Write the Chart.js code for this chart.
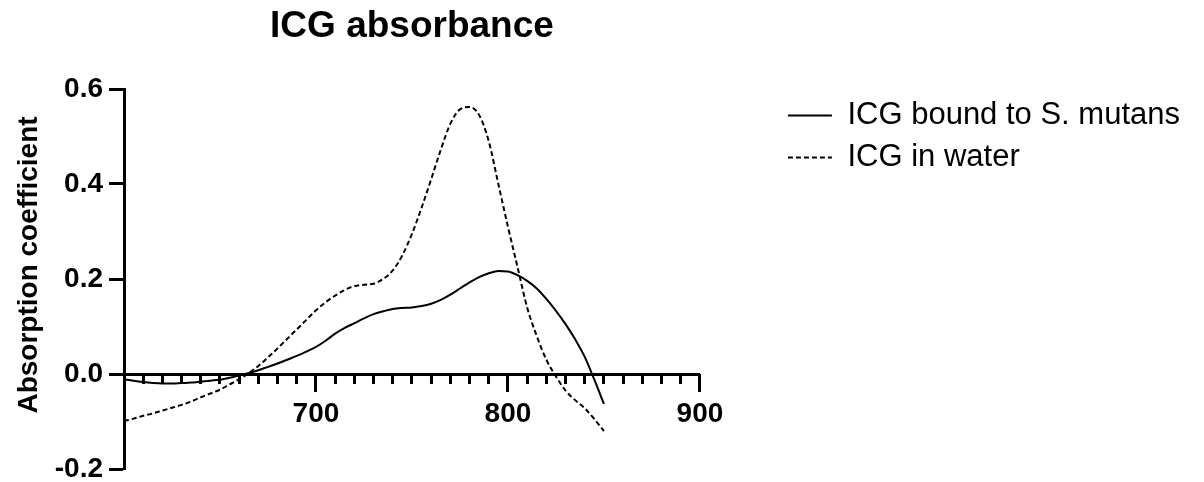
<!DOCTYPE html>
<html>
<head>
<meta charset="utf-8">
<script src="https://cdn.jsdelivr.net/npm/chart.js@4"></script>
<style>
  html, body { margin: 0; padding: 0; background: #fff; }
  #wrap { width: 1204px; height: 482px; }
</style>
</head>
<body>
<div id="wrap"><canvas id="absorbChart" width="1204" height="482"></canvas></div>
<script>
// wavelength (nm), every 5 nm
const wavelength = [600, 605, 610, 615, 620, 625, 630, 635, 640, 645,
                    650, 655, 660, 665, 670, 675, 680, 685, 690, 695,
                    700, 705, 710, 715, 720, 725, 730, 735, 740, 745,
                    750, 755, 760, 765, 770, 775, 780, 785, 790, 795,
                    800, 805, 810, 815, 820, 825, 830, 835, 840, 845, 850];

const boundToSMutans = [-0.011, -0.014, -0.017, -0.019, -0.020, -0.020, -0.019, -0.018, -0.016, -0.014,
                        -0.012, -0.008, -0.003, 0.002, 0.008, 0.015, 0.022, 0.030, 0.038, 0.047,
                        0.057, 0.070, 0.085, 0.097, 0.107, 0.117, 0.126, 0.132, 0.137, 0.139,
                        0.140, 0.143, 0.148, 0.156, 0.167, 0.180, 0.193, 0.204, 0.212, 0.217,
                        0.216, 0.208, 0.196, 0.180, 0.158, 0.133, 0.105, 0.073, 0.036, -0.012, -0.063];

const inWater = [-0.099, -0.094, -0.088, -0.083, -0.077, -0.071, -0.065, -0.058, -0.049, -0.041,
                 -0.033, -0.022, -0.011, 0.002, 0.017, 0.035, 0.054, 0.074, 0.094, 0.114,
                 0.134, 0.151, 0.165, 0.177, 0.185, 0.188, 0.190, 0.200, 0.218, 0.250,
                 0.295, 0.350, 0.410, 0.472, 0.527, 0.557, 0.562, 0.545, 0.490, 0.400,
                 0.310, 0.225, 0.140, 0.080, 0.030, -0.005, -0.035, -0.055, -0.072, -0.095, -0.120];

const seriesNames = ['ICG bound to S. mutans', 'ICG in water'];
const xLabels = [700, 800, 900];
const yTitle = 'Absorption coefficient';

const FONT = "'Liberation Sans', Arial, Helvetica, sans-serif";

function toPoints(ys) {
  return wavelength.map((x, i) => ({ x: x, y: ys[i] }));
}

// y axis title, sits a bit above the middle of the axis like the original
const yTitlePlugin = {
  id: 'yTitle',
  afterDraw(chart) {
    const c = chart.ctx;
    const area = chart.chartArea;
    c.save();
    c.translate(29, (area.top + area.bottom) / 2 - 14);
    c.rotate(-Math.PI / 2);
    c.font = 'bold 28px ' + FONT;
    c.fillStyle = '#000';
    c.textAlign = 'center';
    c.textBaseline = 'middle';
    c.fillText(yTitle, 0, 0);
    c.restore();
  }
};

const ctx = document.getElementById('absorbChart').getContext('2d');

new Chart(ctx, {
  type: 'line',
  data: {
    datasets: [
      {
        label: seriesNames[0],
        data: toPoints(boundToSMutans),
        borderColor: '#000',
        borderWidth: 2,
        pointRadius: 0,
        cubicInterpolationMode: 'monotone',
        fill: false
      },
      {
        label: seriesNames[1],
        data: toPoints(inWater),
        borderColor: '#000',
        borderWidth: 2,
        borderDash: [5, 3],
        pointRadius: 0,
        cubicInterpolationMode: 'monotone',
        fill: false
      }
    ]
  },
  options: {
    responsive: false,
    animation: false,
    devicePixelRatio: 1,
    layout: { padding: { top: 0, right: 14, bottom: 13, left: 0 } },
    scales: {
      x: {
        axis: 'x',
        type: 'linear',
        position: { y: 0 },
        min: 600,
        max: 900,
        afterFit: s => { s.height = 0; s.paddingLeft = 0; s.paddingRight = 0; },
        grid: { drawOnChartArea: false, tickLength: 16, tickWidth: 3, tickColor: '#000' },
        border: { color: '#000', width: 3 },
        ticks: {
          stepSize: 100,
          color: '#000',
          padding: 7,
          maxRotation: 0,
          font: { family: FONT, size: 28, weight: 'bold' },
          callback: v => xLabels.includes(v) ? String(v) : ''
        }
      },
      // minor ticks every 10 nm
      xMinor: {
        axis: 'x',
        type: 'linear',
        position: { y: 0 },
        min: 600,
        max: 900,
        afterFit: s => { s.height = 0; s.paddingLeft = 0; s.paddingRight = 0; },
        grid: { drawOnChartArea: false, tickLength: 10, tickWidth: 3, tickColor: '#000' },
        border: { display: false },
        ticks: { stepSize: 10, display: false }
      },
      y: {
        type: 'linear',
        position: 'left',
        min: -0.2,
        max: 0.6,
        afterFit: s => { s.width = 124; s.paddingTop = 0; s.paddingBottom = 0; },
        grid: { drawOnChartArea: false, tickLength: 15, tickWidth: 3, tickColor: '#000' },
        border: { color: '#000', width: 3 },
        ticks: {
          stepSize: 0.2,
          color: '#000',
          padding: 6,
          font: { family: FONT, size: 28, weight: 'bold' },
          callback: v => Math.abs(v) < 1e-9 ? '0.0' : v.toFixed(1)
        }
      },
      // empty gap between plot and legend
      gap: {
        axis: 'y',
        type: 'linear',
        position: 'right',
        afterFit: s => { s.width = 77; s.paddingTop = 0; s.paddingBottom = 0; },
        grid: { display: false },
        border: { display: false },
        ticks: { display: false }
      }
    },
    plugins: {
      title: {
        display: true,
        text: 'ICG absorbance',
        color: '#000',
        fullSize: false,
        font: { family: FONT, size: 37, weight: 'bold' },
        padding: { top: 5, bottom: 39.6 }
      },
      legend: {
        position: 'right',
        align: 'start',
        fullSize: false,
        maxWidth: 420,
        labels: {
          usePointStyle: true,
          pointStyle: 'line',
          pointStyleWidth: 44,
          padding: 11,
          color: '#000',
          font: { family: FONT, size: 31 },
          generateLabels: chart => {
            const items = Chart.defaults.plugins.legend.labels.generateLabels(chart);
            items.forEach(it => {
              const ds = chart.data.datasets[it.datasetIndex];
              it.lineDash = ds.borderDash || [];
              it.lineWidth = ds.borderWidth;
            });
            return items;
          }
        }
      },
      tooltip: { enabled: false }
    }
  },
  plugins: [yTitlePlugin]
});
</script>
</body>
</html>
